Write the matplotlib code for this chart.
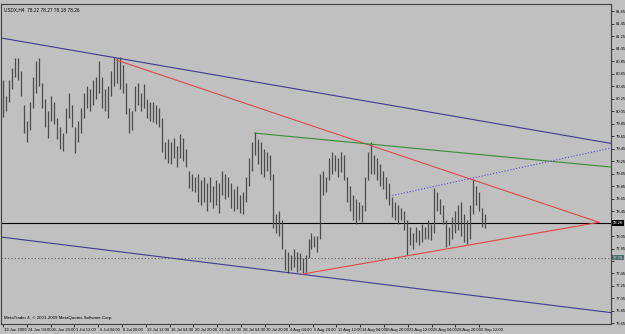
import matplotlib.pyplot as plt
import matplotlib.transforms as mtransforms

plt.rcParams['font.family'] = ['Liberation Sans Narrow', 'Liberation Sans', 'DejaVu Sans']

title = "USDX,H4  78.22 78.27 78.18 78.26"
copyright_text = "MetaTrader 4, \u00a9 2001-2009 MetaQuotes Software Corp."
bid = 78.26
level = 77.70

# H4 bars (high / low)
high = [80.55, 80.30, 80.55, 80.75, 80.90, 80.90, 80.70, 80.15, 79.90, 80.20,
        80.60, 80.85, 80.90, 80.50, 80.25, 80.05, 80.30, 80.20, 79.95, 79.80,
        79.70, 80.10, 80.35, 80.15, 79.80, 79.90, 80.10, 80.35, 80.45, 80.40,
        80.55, 80.60, 80.85, 80.60, 80.40, 80.45, 80.70, 80.92, 80.90, 80.92,
        80.80, 80.50, 80.10, 80.05, 80.45, 80.50, 80.35, 80.48, 80.25, 80.20,
        80.20, 80.15, 80.10, 79.95, 79.55, 79.60, 79.55, 79.62, 79.50, 79.68,
        79.62, 79.45, 79.10, 79.05, 79.00, 79.05, 78.95, 79.00, 78.90, 79.00,
        78.85, 78.95, 78.90, 79.10, 79.05, 79.00, 78.90, 78.80, 78.85, 78.70,
        78.75, 79.00, 79.30, 79.55, 79.72, 79.60, 79.55, 79.45, 79.40, 79.35,
        79.05, 78.40, 78.45, 78.30, 77.85, 77.80, 77.75, 77.85, 77.80, 77.78,
        77.70, 77.75, 78.00, 78.10, 78.05, 78.05, 79.05, 79.10, 79.00, 79.30,
        79.40, 79.35, 79.30, 79.40, 79.35, 79.00, 78.85, 78.70, 78.65, 78.60,
        78.55, 79.00, 79.40, 79.55, 79.35, 79.30, 79.20, 79.10, 79.00, 78.90,
        78.68, 78.60, 78.55, 78.50, 78.45, 78.30, 78.20, 78.10, 78.20, 78.15,
        78.25, 78.20, 78.30, 78.25, 78.82, 78.75, 78.65, 78.55, 78.30, 78.20,
        78.35, 78.45, 78.55, 78.60, 78.40, 78.30, 78.55, 78.96, 78.85, 78.75,
        78.50, 78.40]
low = [79.96, 80.05, 80.20, 80.40, 80.60, 80.55, 80.30, 79.70, 79.55, 79.75,
       80.10, 80.35, 80.45, 80.10, 79.80, 79.62, 79.90, 79.85, 79.60, 79.45,
       79.42, 79.70, 79.95, 79.80, 79.38, 79.55, 79.70, 79.95, 80.10, 80.05,
       80.15, 80.25, 80.35, 80.10, 80.05, 79.95, 80.30, 80.45, 80.50, 80.40,
       80.35, 80.00, 79.70, 79.75, 80.05, 80.15, 80.05, 80.10, 79.95, 79.90,
       79.88, 79.85, 79.80, 79.40, 79.28, 79.22, 79.20, 79.30, 79.15, 79.30,
       79.25, 79.15, 78.82, 78.78, 78.75, 78.60, 78.55, 78.60, 78.45, 78.60,
       78.50, 78.55, 78.42, 78.70, 78.65, 78.68, 78.50, 78.45, 78.48, 78.42,
       78.40, 78.60, 78.85, 79.10, 79.35, 79.20, 79.05, 79.00, 79.10, 78.95,
       78.18, 78.10, 78.05, 77.85, 77.50, 77.45, 77.50, 77.55, 77.48, 77.50,
       77.45, 77.48, 77.70, 77.85, 77.88, 77.80, 78.00, 78.70, 78.75, 78.95,
       79.05, 79.10, 79.00, 79.08, 78.95, 78.60, 78.45, 78.30, 78.25, 78.30,
       78.28, 78.45, 78.95, 79.05, 79.05, 78.95, 78.85, 78.80, 78.65, 78.55,
       78.35, 78.30, 78.25, 78.30, 78.15, 77.75, 77.90, 77.85, 77.95, 77.90,
       77.95, 78.00, 78.00, 77.98, 78.10, 78.45, 78.40, 78.25, 77.87, 77.90,
       78.00, 78.10, 78.15, 78.05, 77.95, 77.92, 78.00, 78.40, 78.55, 78.45,
       78.20, 78.18]

date_labels = ["19 Jun 2009", "24 Jun 04:00", "26 Jun 20:00", "1 Jul 12:00",
               "6 Jul 04:00", "8 Jul 20:00", "13 Jul 12:00", "16 Jul 04:00",
               "20 Jul 20:00", "23 Jul 12:00", "28 Jul 04:00", "30 Jul 20:00",
               "4 Aug 04:00", "6 Aug 20:00", "11 Aug 12:00", "14 Aug 04:00",
               "18 Aug 20:00", "21 Aug 12:00", "26 Aug 04:00", "28 Aug 20:00",
               "2 Sep 12:00"]
price_labels = ["81.65", "81.45", "81.25", "81.05", "80.85", "80.65", "80.45",
                "80.25", "80.05", "79.85", "79.65", "79.45", "79.25", "79.05",
                "78.85", "78.65", "78.45", "78.25", "78.05", "77.85", "77.65",
                "77.45", "77.25", "77.05", "76.85", "76.65"]
# scale labels hidden under the bid / level price boxes
hidden_labels = ["78.25", "77.65"]

# trend lines: (bar1, price1, bar2, price2, colour, style, extend right)
trendlines = [
    (0, 81.22, 200, 79.56, "#3c3c8c", "-", True),
    (0, 78.03, 200, 76.84, "#3c3c8c", "-", True),
    (38, 80.87, 199, 78.27, "#e04848", "-", False),
    (100, 77.44, 199, 78.27, "#e04848", "-", False),
    (84, 79.70, 200, 79.17, "#3c8c3c", "-", True),
    (130, 78.70, 200, 79.43, "#5050c8", ":", True),
]

bg = "#c0c0c0"
fig = plt.figure(figsize=(6.25, 3.34), dpi=100, facecolor=bg)
ax = fig.add_axes([0.0016, 0.030, 0.976, 0.958], facecolor=bg)
xmin, xmax = -0.67, 203
ax.set_xlim(xmin, xmax)
ax.set_ylim(76.64, 81.77)

bars = range(len(high))
ax.vlines(bars, low, high, color="#4a4a4a", lw=0.9, zorder=3)

ax.axhline(bid, color="black", lw=0.8, zorder=2)
ax.axhline(level, color="#606060", lw=0.8, ls=(0, (1, 2)), zorder=2)

for x1, y1, x2, y2, col, ls, ray in trendlines:
    slope = (y2 - y1) / (x2 - x1)
    if ray:
        xs = [xmin if x1 <= 0 else x1, xmax]
    else:
        xs = [x1, x2]
    ys = [y1 + slope * (x - x1) for x in xs]
    ax.plot(xs, ys, color=col, lw=0.8, ls=ls, zorder=4)

for s in ax.spines.values():
    s.set_color("#404040")
    s.set_linewidth(0.8)

ax.yaxis.tick_right()
ax.set_yticks([float(p) for p in price_labels])
ax.set_yticklabels(["" if p in hidden_labels else p for p in price_labels])
ax.tick_params(axis="y", labelsize=3.0, length=2, width=0.5, pad=1.2, colors="black")

ax.set_xticks([k * 7.95 for k in range(len(date_labels))])
ax.set_xticklabels(date_labels)
ax.tick_params(axis="x", labelsize=3.0, length=2.5, width=0.5, pad=0.6, colors="black")
offset = mtransforms.ScaledTranslation(1.0 / 72, 0, fig.dpi_scale_trans)
for lbl in ax.get_xticklabels():
    lbl.set_horizontalalignment("left")
    lbl.set_transform(lbl.get_transform() + offset)

trans = mtransforms.blended_transform_factory(ax.transAxes, ax.transData)
ax.text(1.003, bid, "%.2f" % bid, transform=trans, fontsize=3.0, color="white",
        va="center", ha="left", zorder=6,
        bbox=dict(boxstyle="square,pad=0.15", fc="black", ec="none"))
ax.text(1.003, level, "%.2f" % level, transform=trans, fontsize=3.0, color="#d8d8d8",
        va="center", ha="left", zorder=6,
        bbox=dict(boxstyle="square,pad=0.15", fc="#4f6f6f", ec="none"))

ax.text(0.005, 0.99, title, transform=ax.transAxes, fontsize=3.4, va="top", ha="left")
ax.text(0.005, 0.012, copyright_text, transform=ax.transAxes, fontsize=3.2,
        va="bottom", ha="left")

fig.savefig("out.png", dpi=100, facecolor=bg)
